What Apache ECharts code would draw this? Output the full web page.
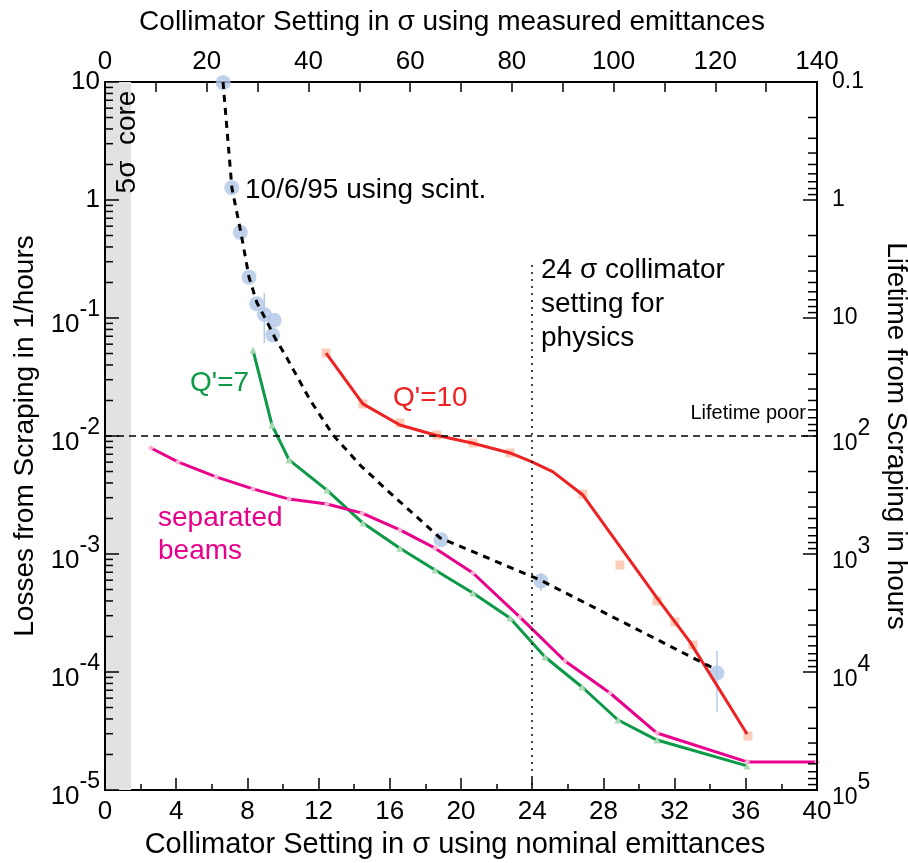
<!DOCTYPE html>
<html><head><meta charset="utf-8">
<script src="https://cdn.jsdelivr.net/npm/echarts@6/dist/echarts.min.js"></script>
<style>html,body{margin:0;padding:0;background:#fff}#c{width:908px;height:863px}</style>
</head><body><div id="c"></div>
<script>
// measured (scintillator) points
const scintX = [6.64, 7.12, 7.60, 8.09, 8.52, 8.95, 9.51, 9.42, 18.88, 24.49, 34.38];
const scintY = [9.87, 1.27, 0.532, 0.222, 0.132, 0.107, 0.0957, 0.0718, 1.32e-3, 5.9e-4, 9.8e-5];
// error bars
const errX = [8.95, 24.49, 34.38];
const errLow = [0.0614, 4.85e-4, 4.58e-5];
const errHigh = [0.163, 6.9e-4, 1.51e-4];
// dashed fit through scintillator points
const fitX = [6.63, 7.13, 7.64, 8.09, 8.54, 8.99, 9.55, 10.22, 11.52, 12.81, 14.33, 15.84, 18.82, 24.44, 34.16];
const fitY = [10, 1.26, 0.525, 0.222, 0.134, 0.100, 0.0678, 0.0458, 0.0202, 0.0102, 5.67e-3, 3.48e-3, 1.37e-3, 6.03e-4, 1.08e-4];
// Q'=7
const q7X = [8.31, 9.38, 10.34, 12.47, 14.49, 16.57, 18.54, 20.67, 22.75, 24.72, 26.80, 28.82, 31.01, 36.07];
const q7Y = [0.0536, 0.0124, 6.27e-3, 3.48e-3, 1.83e-3, 1.12e-3, 7.31e-4, 4.67e-4, 2.87e-4, 1.34e-4, 7.46e-5, 3.92e-5, 2.65e-5, 1.6e-5];
// Q'=10 fit line and points
const q10LineX = [12.42, 14.49, 16.57, 18.54, 20.62, 22.75, 23.99, 25.17, 26.85, 31.01, 32.87, 36.07];
const q10LineY = [0.0505, 0.0187, 0.0124, 0.0102, 8.72e-3, 7.18e-3, 6.03e-3, 4.96e-3, 3.16e-3, 4.24e-4, 1.79e-4, 2.98e-5];
const q10PtsX = [12.42, 14.49, 16.57, 18.65, 20.67, 22.75, 26.85, 28.93, 31.01, 32.02, 33.03, 36.12];
const q10PtsY = [0.0505, 0.0187, 0.0129, 0.0102, 8.72e-3, 7.18e-3, 3.22e-3, 8.07e-4, 4.0e-4, 2.65e-4, 1.69e-4, 2.87e-5];
// separated beams
const sepX = [2.58, 4.10, 6.24, 8.31, 10.34, 12.47, 14.44, 16.57, 18.54, 20.67, 23.31, 25.84, 28.37, 31.01, 36.07, 40];
const sepY = [7.91e-3, 6.03e-3, 4.5e-3, 3.56e-3, 2.92e-3, 2.65e-3, 2.22e-3, 1.6e-3, 1.12e-3, 6.9e-4, 2.92e-4, 1.24e-4, 6.64e-5, 3.04e-5, 1.73e-5, 1.73e-5];
// reference lines
const lifetimePoorLoss = 0.01;
const physicsSetting = 24;
const physicsLineTop = 0.281;
const coreEdge = 1.46;

const FONT = 'Liberation Sans, Arial, sans-serif';
const zip = (a, b) => a.map((v, i) => [v, b[i]]);

// log-axis tick values: [value, isMajor]
const leftTicks = [];
for (let d = -5; d <= 0; d++) for (let m = 1; m <= 9; m++) leftTicks.push([m * Math.pow(10, d), m === 1]);
leftTicks.push([10, true]);
const rightTicks = [];
for (let d = -1; d <= 4; d++) for (let m = 1; m <= 9; m++) rightTicks.push([m * Math.pow(10, d), m === 1]);
rightTicks.push([1e5, true]);

function expLabel(v, right) {
  const e = Math.round(Math.log10(v));
  const p = right ? 'r' : 'l';
  if (right) {
    if (e === -1) return '{' + p + 'b|0.1}';
    if (e === 0) return '{' + p + 'b|1}';
    if (e === 1) return '{' + p + 'b|10}';
  } else {
    if (e === 1) return '{' + p + 'b|10}';
    if (e === 0) return '{' + p + 'b|1}';
  }
  return '{' + p + 'b|10}{' + p + 's|' + e + '}';
}
const rich = {
  lb: { fontSize: 26, fontFamily: FONT, color: '#000', verticalAlign: 'bottom' },
  ls: { fontSize: 23, fontFamily: FONT, color: '#000', verticalAlign: 'bottom', padding: [0, 0, 16, 0] },
  rb: { fontSize: 23, fontFamily: FONT, color: '#000', verticalAlign: 'bottom' },
  rs: { fontSize: 23, fontFamily: FONT, color: '#000', verticalAlign: 'bottom', padding: [0, 0, 15, 0] }
};

const chart = echarts.init(document.getElementById('c'), null, { renderer: 'canvas' });
const xLine = { show: true, onZero: false, lineStyle: { color: '#000', width: 2 } };
const yLine = { show: true, lineStyle: { color: '#000', width: 2 } };
const textGraphics = [
  { type: 'text', x: 141, y: 142, rotation: Math.PI / 2, z: 10,
    style: { text: '5σ  core', font: '28px ' + FONT, fill: '#000', align: 'center', verticalAlign: 'bottom' } },
  { type: 'text', x: 245, y: 190, z: 10,
    style: { text: '10/6/95 using scint.', font: '28px ' + FONT, fill: '#000', verticalAlign: 'middle' } },
  { type: 'text', x: 541, y: 253, z: 10,
    style: { text: '24 σ collimator\nsetting for\nphysics', font: '28px ' + FONT, fill: '#000', lineHeight: 34 } },
  { type: 'text', x: 806, y: 413, z: 10,
    style: { text: 'Lifetime poor', font: '20px ' + FONT, fill: '#000', align: 'right', verticalAlign: 'middle' } },
  { type: 'text', x: 190, y: 383, z: 10,
    style: { text: "Q'=7", font: '28px ' + FONT, fill: '#0d9a48', verticalAlign: 'middle' } },
  { type: 'text', x: 393, y: 398, z: 10,
    style: { text: "Q'=10", font: '28px ' + FONT, fill: '#ee2222', verticalAlign: 'middle' } },
  { type: 'text', x: 158, y: 502, z: 10,
    style: { text: 'separated\nbeams', font: '28px ' + FONT, fill: '#e8008c', lineHeight: 33 } }
];
const option = {
  animation: false,
  backgroundColor: '#fff',
  grid: { left: 105, right: 91, top: 82, bottom: 73, containLabel: false, outerBoundsMode: 'none' },
  xAxis: [
    { type: 'value', min: 0, max: 40, interval: 4, position: 'bottom',
      axisLine: xLine, splitLine: { show: false },
      axisTick: { show: true, inside: true, length: 12, lineStyle: { color: '#000', width: 1.5 } },
      minorTick: { show: true, splitNumber: 2, length: 6, lineStyle: { color: '#000', width: 1.5 } },
      axisLabel: { fontSize: 26, fontFamily: FONT, color: '#000', margin: 9 },
      name: 'Collimator Setting in σ using nominal emittances', nameLocation: 'middle', nameGap: 40,
      nameTextStyle: { fontSize: 29, fontFamily: FONT, color: '#000', padding: [0, 12, 0, 0] } },
    { type: 'value', min: 0, max: 140, interval: 20, position: 'top',
      axisLine: xLine, splitLine: { show: false },
      axisTick: { show: true, inside: true, length: 10, lineStyle: { color: '#000', width: 1.5 } },
      minorTick: { show: true, splitNumber: 2, length: 10, lineStyle: { color: '#000', width: 1.5 } },
      axisLabel: { fontSize: 26, fontFamily: FONT, color: '#000', margin: 7 },
      name: 'Collimator Setting in σ using measured emittances', nameLocation: 'middle', nameGap: 46,
      nameTextStyle: { fontSize: 28, fontFamily: FONT, color: '#000', padding: [0, 18, 0, 0] } }
  ],
  yAxis: [
    { type: 'log', logBase: 10, min: 1e-5, max: 10, splitNumber: 6, position: 'left',
      axisLine: yLine, splitLine: { show: false }, axisTick: { show: false },
      axisLabel: { formatter: v => expLabel(v, false), rich: rich, fontSize: 26, fontFamily: FONT, color: '#000', margin: 5 },
      name: 'Losses from Scraping in 1/hours', nameLocation: 'middle', nameGap: 66, nameRotate: 90,
      nameTextStyle: { fontSize: 28, fontFamily: FONT, color: '#000' } },
    { type: 'log', logBase: 10, min: 0.1, max: 1e5, splitNumber: 6, inverse: true, position: 'right',
      axisLine: yLine, splitLine: { show: false }, axisTick: { show: false },
      axisLabel: { formatter: v => expLabel(v, true), rich: rich, fontSize: 23, fontFamily: FONT, color: '#000', margin: 15 },
      name: 'Lifetime from Scraping in hours', nameLocation: 'middle', nameGap: 62, nameRotate: -90,
      nameTextStyle: { fontSize: 28, fontFamily: FONT, color: '#000' } }
  ],
  series: [
    { type: 'custom', silent: true, z: 1, data: [[0, coreEdge]],
      renderItem: (p, api) => { const a = api.coord([api.value(0), 10]); const b = api.coord([api.value(1), 1e-5]);
        return { type: 'rect', shape: { x: a[0] + 1, y: a[1], width: b[0] - a[0] - 1, height: b[1] - a[1] }, style: { fill: '#e2e2e2' } }; } },
    { type: 'line', data: [], silent: true, z: 1,
      markLine: { silent: true, symbol: 'none', label: { show: false }, animation: false,
        data: [
          { yAxis: lifetimePoorLoss, lineStyle: { color: '#000', width: 1.5, type: [7, 5] } },
          [{ coord: [physicsSetting, physicsLineTop], lineStyle: { color: '#000', width: 1.5, type: [2, 5] } },
           { coord: [physicsSetting, 1e-5] }]
        ] } },
    { type: 'custom', silent: true, z: 2, data: errX.map((x, i) => [x, errLow[i], errHigh[i]]),
      renderItem: (p, api) => { const a = api.coord([api.value(0), api.value(1)]); const b = api.coord([api.value(0), api.value(2)]);
        return { type: 'line', shape: { x1: a[0], y1: a[1], x2: b[0], y2: b[1] }, style: { stroke: '#b4cbe8', lineWidth: 1.5 } }; } },
    { type: 'scatter', data: zip(scintX, scintY), symbol: 'circle', symbolSize: 15, z: 3,
      itemStyle: { color: '#b0c7e6' } },
    { type: 'scatter', data: zip(q10PtsX, q10PtsY), symbol: 'rect', symbolSize: 9, z: 3,
      itemStyle: { color: '#f8c1a9' } },
    { type: 'line', data: zip(q10LineX, q10LineY), symbol: 'none', z: 4,
      lineStyle: { color: '#ee2222', width: 3 } },
    { type: 'line', data: zip(q7X, q7Y), symbol: 'triangle', symbolSize: 7, showSymbol: true, z: 4,
      itemStyle: { color: '#a9dab3' }, lineStyle: { color: '#0d9a48', width: 3 } },
    { type: 'line', data: zip(sepX, sepY), symbol: 'diamond', symbolSize: 6, z: 4,
      itemStyle: { color: '#f6b2d2' }, lineStyle: { color: '#e8008c', width: 3 } },
    { type: 'line', data: zip(fitX, fitY), symbol: 'none', z: 6,
      lineStyle: { color: '#000', width: 3, type: [7, 6] } }
  ],
  graphic: textGraphics
};
chart.setOption(option);

// frame sides and log ticks placed through the chart's own scales
const xL = chart.convertToPixel({ xAxisIndex: 0 }, 0);
const xR = chart.convertToPixel({ xAxisIndex: 0 }, 40);
const yT = chart.convertToPixel({ yAxisIndex: 0 }, 10);
const yB = chart.convertToPixel({ yAxisIndex: 0 }, 1e-5);
const frame = [];
const seg = (x1, y1, x2, y2, w) => ({ type: 'line', silent: true, z: 50,
  shape: { x1: x1, y1: y1, x2: x2, y2: y2 }, style: { stroke: '#000', lineWidth: w } });
frame.push(seg(xL, yT - 1, xL, yB + 1, 2));
frame.push(seg(xR, yT - 1, xR, yB + 1, 2));
leftTicks.forEach(t => { const y = chart.convertToPixel({ yAxisIndex: 0 }, t[0]); frame.push(seg(xL, y, xL + (t[1] ? 14 : 8), y, 1.5)); });
rightTicks.forEach(t => { const y = chart.convertToPixel({ yAxisIndex: 1 }, t[0]); frame.push(seg(xR, y, xR - (t[1] ? 14 : 9), y, 1.5)); });
chart.setOption({ graphic: textGraphics.concat(frame) });
</script></body></html>
